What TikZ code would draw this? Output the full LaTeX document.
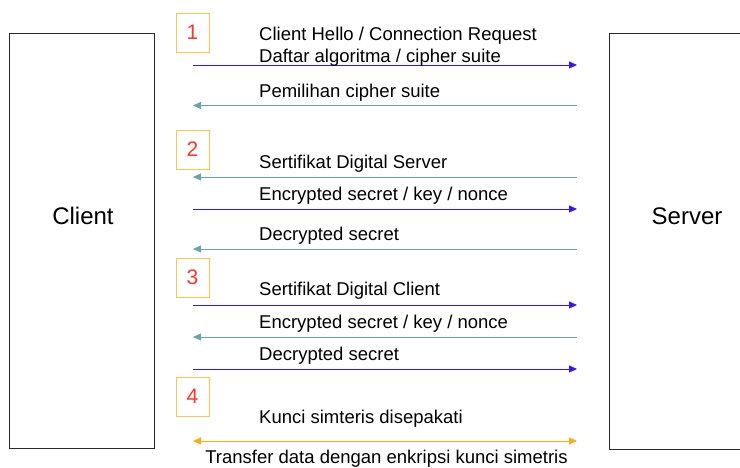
\documentclass[tikz,border=0pt]{standalone}
\usepackage{fontspec}
\setmainfont{Liberation Sans}
\usetikzlibrary{arrows.meta}

\definecolor{fwdblue}{RGB}{45,25,255}
\definecolor{backteal}{RGB}{105,165,165}
\definecolor{keyorange}{RGB}{255,175,20}
\definecolor{stepframe}{RGB}{255,195,80}
\definecolor{stepred}{RGB}{255,55,45}
\definecolor{partyline}{RGB}{40,40,40}

\tikzset{
  party/.style={draw=partyline, line width=0.9pt, fill=white, inner sep=0pt},
  partylabel/.style={font=\fontsize{24}{28}\selectfont, inner sep=0pt},
  msg/.style={font=\fontsize{18.5}{22}\selectfont, inner sep=0pt, anchor=base west},
  stepbox/.style={draw=stepframe, line width=1pt, fill=white, minimum width=33pt,
    minimum height=39pt, inner sep=0pt, text=stepred, font=\fontsize{21}{24}\selectfont},
  tip/.style={-{Triangle[length=8pt,width=7pt]}},
  tofwd/.style={tip, draw=fwdblue, fill=fwdblue, line width=1pt},
  toback/.style={tip, draw=backteal, fill=backteal, line width=1pt},
  tokey/.style={{Triangle[length=8pt,width=7pt]}-{Triangle[length=8pt,width=7pt]},
    draw=keyorange, fill=keyorange, line width=1pt},
}

\begin{document}
\begin{tikzpicture}[x=1pt,y=-1pt]
\useasboundingbox (0,0) rectangle (740,467);
\clip (0,0) rectangle (740,467);

% the two parties
\node[party, minimum width=144.5pt, minimum height=415pt] (client) at (82,240.5) {};
\node[partylabel] (clientname) at (83,216) {Client};
\node[party, minimum width=160pt, minimum height=416pt] (server) at (689,241) {};
\node[partylabel] (servername) at (687,216) {Server};

% step markers
\node[stepbox] (step1) at (192.5,32.5) {1};
\node[stepbox] (step2) at (192.5,149.5) {2};
\node[stepbox] (step3) at (192.5,277.5) {3};
\node[stepbox] (step4) at (192.5,396.5) {4};

% message end points (client side c, server side s)
\foreach \i/\y in {1/65,2/105.5,3/177,4/209,5/249,6/305,7/337,8/369,9/441}{
  \coordinate (c\i) at (193,\y);
  \coordinate (s\i) at (577,\y);
}

% messages
\draw[tofwd]  (c1) -- (s1);
\draw[toback] (s2) -- (c2);
\draw[toback] (s3) -- (c3);
\draw[tofwd]  (c4) -- (s4);
\draw[toback] (s5) -- (c5);
\draw[tofwd]  (c6) -- (s6);
\draw[toback] (s7) -- (c7);
\draw[tofwd]  (c8) -- (s8);
\draw[tokey]  (c9) -- (s9);

% message texts
\node[msg] (t1a) at (259,40.7) {Client Hello / Connection Request};
\node[msg] (t1b) at (259,62.3) {Daftar algoritma / cipher suite};
\node[msg] (t2)  at (259,97) {Pemilihan cipher suite};
\node[msg] (t3)  at (259,168.3) {Sertifikat Digital Server};
\node[msg] (t4)  at (259,200) {Encrypted secret / key / nonce};
\node[msg] (t5)  at (259,240) {Decrypted secret};
\node[msg] (t6)  at (259,295) {Sertifikat Digital Client};
\node[msg] (t7)  at (259,328.3) {Encrypted secret / key / nonce};
\node[msg] (t8)  at (259,360) {Decrypted secret};
\node[msg] (t9)  at (259,423.3) {Kunci simteris disepakati};
\node[msg, anchor=base] (t10) at (386.5,463.3) {Transfer data dengan enkripsi kunci simetris};
\end{tikzpicture}
\end{document}
